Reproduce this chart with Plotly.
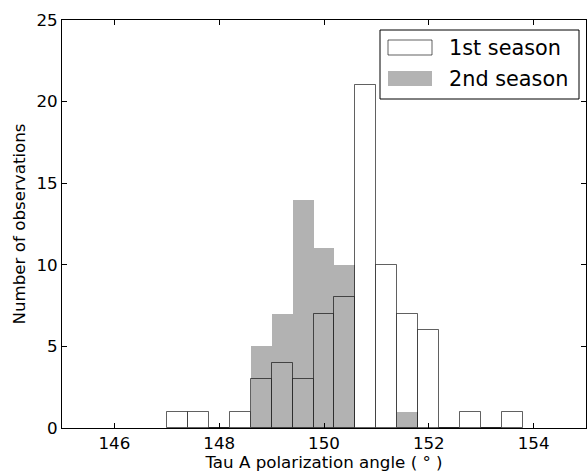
import plotly.graph_objects as go

# ---- data ----
bin_left = [147.0, 147.4, 147.8, 148.2, 148.6, 149.0, 149.4, 149.8, 150.2,
            150.6, 151.0, 151.4, 151.8, 152.2, 152.6, 153.0, 153.4]
bin_width = 0.4
first_season = [1, 1, 0, 1, 3, 4, 3, 7, 8, 21, 10, 7, 6, 0, 1, 0, 1]
second_season = [0, 0, 0, 0, 5, 7, 14, 11, 10, 0, 0, 1, 0, 0, 0, 0, 0]
series_names = ["1st season", "2nd season"]
x_ticks = [146, 148, 150, 152, 154]
y_ticks = [0, 5, 10, 15, 20, 25]

FONT = "DejaVu Sans"
W, H = 588, 472
ML, MR, MT, MB = 62, 2, 20, 44
PW, PH = W - ML - MR, H - MT - MB


def px(x):
    return (x - ML) / PW


def py(y):
    return (H - MB - y) / PH


fig = go.Figure()
fig.add_trace(go.Bar(
    x=bin_left, y=first_season, width=bin_width, offset=0,
    name=series_names[0],
    marker=dict(color="white", line=dict(color="rgba(0,0,0,0.62)", width=1)),
    showlegend=False,
))
fig.add_trace(go.Bar(
    x=bin_left, y=second_season, width=bin_width, offset=0,
    name=series_names[1],
    marker=dict(color="rgba(0,0,0,0.3)", line=dict(width=0)),
    showlegend=False,
))

axis_common = dict(
    showline=True, linecolor="black", linewidth=1, mirror="ticks",
    ticks="inside", ticklen=5, tickwidth=1, tickcolor="black",
    showgrid=False, zeroline=False, automargin=False,
    tickfont=dict(family=FONT, size=16.7, color="black"),
)

fig.update_layout(
    width=W, height=H,
    margin=dict(l=ML, r=MR, t=MT, b=MB),
    plot_bgcolor="white", paper_bgcolor="white",
    barmode="overlay", bargap=0,
    font=dict(family=FONT, color="black"),
    xaxis=dict(range=[145, 155], tickvals=x_ticks,
               title=dict(text="Tau A polarization angle ( ° )",
                          font=dict(family=FONT, size=16.7), standoff=3),
               **axis_common),
    yaxis=dict(range=[0, 25], tickvals=y_ticks,
               title=dict(text="Number of observations",
                          font=dict(family=FONT, size=16.7), standoff=6),
               **axis_common),
)

# ---- legend drawn by hand (matplotlib style) ----
shapes = [
    dict(type="rect", xref="paper", yref="paper",
         x0=px(380), x1=px(579), y0=py(99), y1=py(30),
         line=dict(color="black", width=1), fillcolor="white", layer="above"),
    dict(type="rect", xref="paper", yref="paper",
         x0=px(388), x1=px(432), y0=py(55), y1=py(40),
         line=dict(color="rgba(0,0,0,0.62)", width=1), fillcolor="white", layer="above"),
    dict(type="rect", xref="paper", yref="paper",
         x0=px(388), x1=px(432), y0=py(86), y1=py(71),
         line=dict(width=0), fillcolor="rgb(179,179,179)", layer="above"),
]
for s in shapes:
    fig.add_shape(**s)

for name, ycen in zip(series_names, [48, 79]):
    fig.add_annotation(
        xref="paper", yref="paper", x=px(447), y=py(ycen),
        xanchor="left", yanchor="middle", showarrow=False,
        text=name, font=dict(family=FONT, size=20.8, color="black"),
    )

fig.write_html("out.html",
               config={"displayModeBar": False},
               post_script="document.body.style.margin='0';"
                           "document.body.style.overflow='hidden';")
